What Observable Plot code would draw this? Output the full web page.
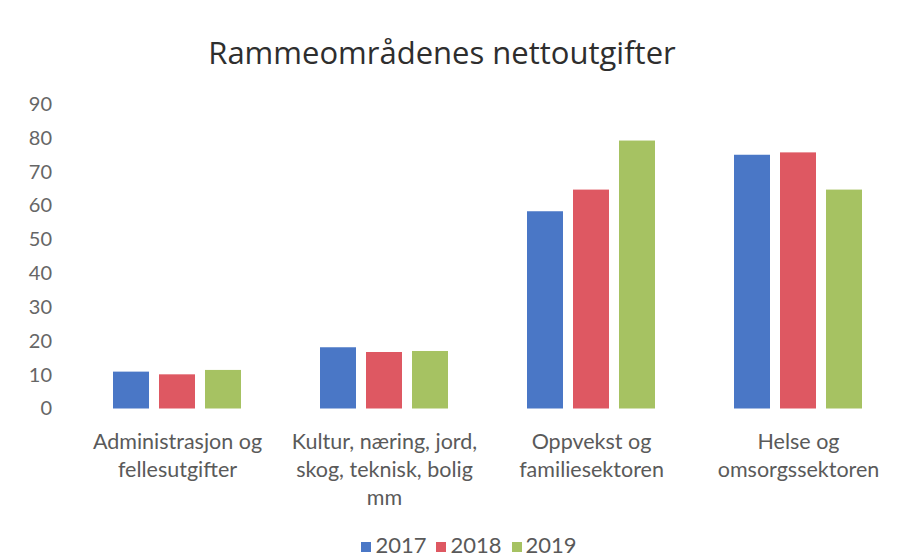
<!DOCTYPE html>
<html>
<head>
<meta charset="utf-8">
<script src="https://cdn.jsdelivr.net/npm/d3@7"></script>
<script src="https://cdn.jsdelivr.net/npm/@observablehq/plot@0.6"></script>
<style>
  html, body { margin: 0; padding: 0; background: #fff; }
  #wrap { position: relative; width: 913px; height: 558px; overflow: hidden; background: #fff; }
  #title { position: absolute; left: 0; width: 884px; top: 34px; text-align: center;
           font-family: "Open Sans", sans-serif; font-size: 31px; color: #2e2e2e; line-height: 36px; }
  #chart { position: absolute; left: 0; top: 80px; }
  #legend { position: absolute; left: 0; width: 938px; top: 533px; text-align: center;
            font-family: Lato, sans-serif; font-size: 22px; color: #595959; line-height: 24px; }
  #legend span.item { display: inline-block; margin: 0 5px; }
  #legend span.sw { display: inline-block; width: 10px; height: 10px; margin-right: 4px; vertical-align: 1px; }
</style>
</head>
<body>
<div id="wrap">
  <div id="title">Rammeområdenes nettoutgifter</div>
  <div id="chart"></div>
  <div id="legend"></div>
</div>
<script>
// Data
const categories = [
  "Administrasjon og fellesutgifter",
  "Kultur, næring, jord, skog, teknisk, bolig mm",
  "Oppvekst og familiesektoren",
  "Helse og omsorgssektoren"
];
const categoryLabels = [
  "Administrasjon og\nfellesutgifter",
  "Kultur, næring, jord,\nskog, teknisk, bolig\nmm",
  "Oppvekst og\nfamiliesektoren",
  "Helse og\nomsorgssektoren"
];
const years = ["2017", "2018", "2019"];
const values2017 = [10.9, 18.1, 58.3, 75.0];
const values2018 = [10.1, 16.7, 64.7, 75.7];
const values2019 = [11.4, 17.0, 79.2, 64.7];
const yTicks = [0, 10, 20, 30, 40, 50, 60, 70, 80, 90];
const colors = ["#4a77c6", "#de5862", "#a6c262"];

const series = [values2017, values2018, values2019];
const data = [];
categories.forEach((c, i) => {
  years.forEach((y, j) => data.push({category: c, year: y, value: series[j][i]}));
});
const labelOf = new Map(categories.map((c, i) => [c, categoryLabels[i]]));

const chart = Plot.plot({
  width: 913,
  height: 440,
  marginLeft: 74,
  marginRight: 11,
  marginTop: 24,
  marginBottom: 111.5,
  style: {fontFamily: "Lato, sans-serif", background: "transparent"},
  fx: {domain: categories, paddingInner: 0.285, paddingOuter: 0.1425, axis: null, label: null},
  x: {domain: years, padding: 0.217, axis: null, label: null},
  y: {domain: [0, 90], axis: null, label: null},
  color: {domain: years, range: colors},
  marks: [
    Plot.barY(data, {fx: "category", x: "year", y: "value", fill: "year"}),
    Plot.axisY(yTicks, {anchor: "left", facetAnchor: "left", tickSize: 0, tickPadding: 51.5,
      label: null, fill: "#666", fontSize: 20}),
    Plot.text(categories, {fx: d => d, text: d => labelOf.get(d), frameAnchor: "bottom",
      lineAnchor: "top", dy: 20, lineHeight: 1.3, fill: "#5a5a5a", fontSize: 21.5})
  ]
});
document.getElementById("chart").appendChild(chart);

const legend = document.getElementById("legend");
years.forEach((y, i) => {
  const item = document.createElement("span");
  item.className = "item";
  const sw = document.createElement("span");
  sw.className = "sw";
  sw.style.background = colors[i];
  item.appendChild(sw);
  item.appendChild(document.createTextNode(y));
  legend.appendChild(item);
});
</script>
</body>
</html>
